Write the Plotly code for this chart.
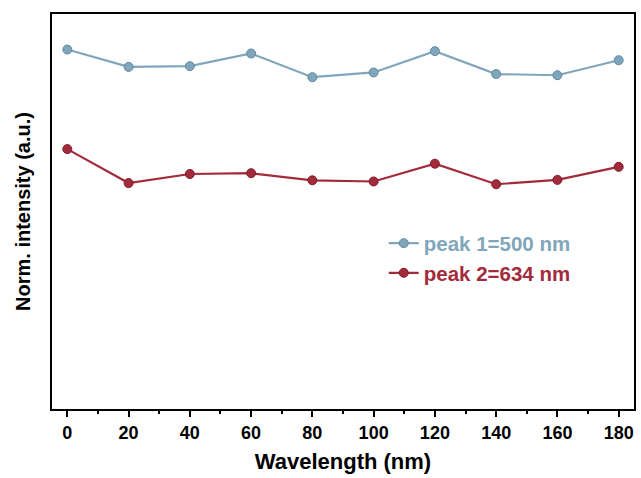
import plotly.graph_objects as go

# Positions along the x axis
wavelength = [0, 20, 40, 60, 80, 100, 120, 140, 160, 180]

# Normalised intensities of the two emission peaks
peak1_500 = [0.910, 0.866, 0.868, 0.900, 0.840, 0.852, 0.906, 0.848, 0.845, 0.883]
peak2_634 = [0.658, 0.572, 0.595, 0.597, 0.579, 0.576, 0.621, 0.569, 0.580, 0.613]

x_ticks = [0, 20, 40, 60, 80, 100, 120, 140, 160, 180]
x_labels = [f"<b>{v}</b>" for v in x_ticks]

BLUE = "#7fa6ba"
RED = "#a32a3b"
FONT = "Liberation Sans, Arial, sans-serif"

fig = go.Figure()

fig.add_trace(go.Scatter(
    x=wavelength, y=peak1_500, mode="lines+markers",
    name=f"<span style='color:{BLUE}'><b>peak 1=500 nm</b></span>",
    line=dict(color=BLUE, width=2.2),
    marker=dict(size=9, color=BLUE, line=dict(color="#5f8aa0", width=1)),
))
fig.add_trace(go.Scatter(
    x=wavelength, y=peak2_634, mode="lines+markers",
    name=f"<span style='color:{RED}'><b>peak 2=634 nm</b></span>",
    line=dict(color=RED, width=2.2),
    marker=dict(size=9, color=RED, line=dict(color="#7e1c2a", width=1)),
))

fig.update_layout(
    width=641, height=478,
    margin=dict(l=52, r=5, t=14, b=69),
    paper_bgcolor="white", plot_bgcolor="white",
    font=dict(family=FONT, color="black"),
    showlegend=True,
    legend=dict(
        x=0.57, y=0.47, xanchor="left", yanchor="top",
        bgcolor="rgba(0,0,0,0)", font=dict(size=20.5, family=FONT),
        tracegroupgap=0,
    ),
    xaxis=dict(
        range=[-5, 185], tickvals=x_ticks, ticktext=x_labels,
        ticks="outside", ticklen=6, tickwidth=2, tickcolor="black",
        minor=dict(dtick=10, tick0=0, ticks="outside", ticklen=3, tickwidth=2, tickcolor="black"),
        showline=True, linecolor="black", linewidth=2, mirror=True,
        showgrid=False, zeroline=False,
        tickfont=dict(size=18, family=FONT),
        title=dict(text="<b>Wavelength (nm)</b>", font=dict(size=22, family=FONT), standoff=12),
    ),
    yaxis=dict(
        range=[0, 1], showticklabels=False, ticks="",
        showline=True, linecolor="black", linewidth=2, mirror=True,
        showgrid=False, zeroline=False,
        title=dict(text="<b>Norm. intensity (a.u.)</b>", font=dict(size=20, family=FONT), standoff=14),
    ),
)

fig.write_html("out.html")
